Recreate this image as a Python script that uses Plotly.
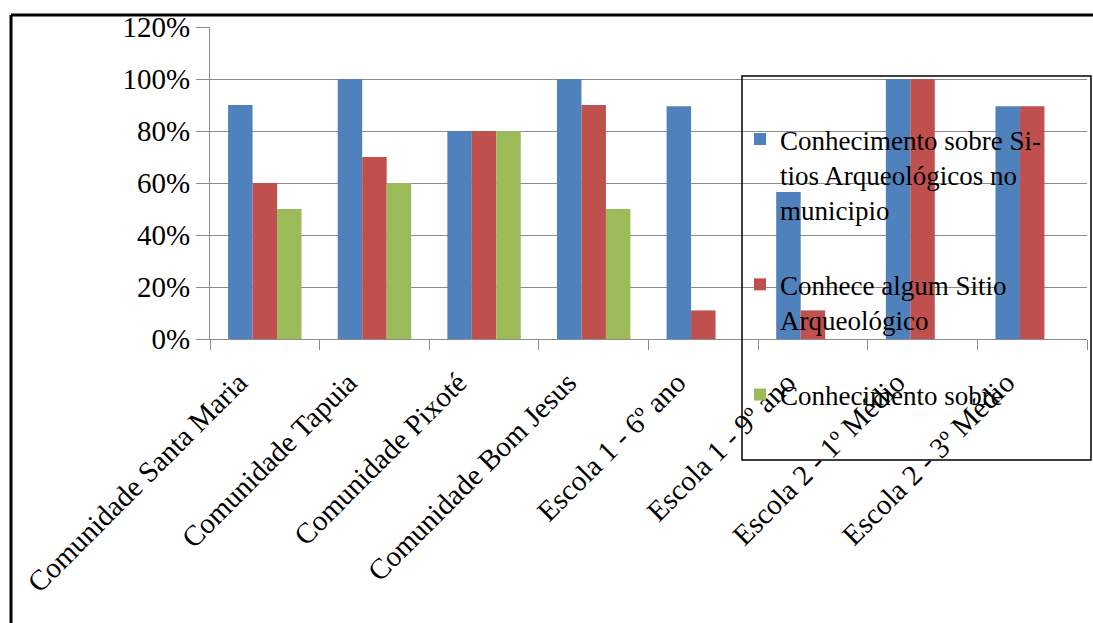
import plotly.graph_objects as go

# Survey results per community / school group
categories = [
    "Comunidade Santa Maria",
    "Comunidade Tapuia",
    "Comunidade Pixoté",
    "Comunidade Bom Jesus",
    "Escola 1 - 6º ano",
    "Escola 1 - 9º ano",
    "Escola 2 - 1º Médio",
    "Escola 2 - 3º Médio",
]
conhecimento_sitios = [0.90, 1.00, 0.80, 1.00, 0.895, 0.565, 1.00, 0.895]
conhece_algum = [0.60, 0.70, 0.80, 0.90, 0.11, 0.11, 1.00, 0.895]
conhecimento_sobre = [0.50, 0.60, 0.80, 0.50, 0.0, 0.0, 0.0, 0.0]

series_names = [
    "Conhecimento sobre Si-<br>tios Arqueológicos no<br>municipio",
    "Conhece algum Sitio<br>Arqueológico",
    "Conhecimento sobre",
]
series_colors = ["#4F81BD", "#C0504D", "#9BBB59"]
y_ticks = [0, 0.2, 0.4, 0.6, 0.8, 1.0, 1.2]
y_tick_text = ["0%", "20%", "40%", "60%", "80%", "100%", "120%"]

W, H = 1093, 623
L, R, T, B = 210, 6, 27, 284
pw, ph = W - L - R, H - T - B


def px_x(x):
    return (x - L) / pw


def px_y(y):
    return (H - B - y) / ph


fig = go.Figure()
for i, (name, vals, col) in enumerate(
    zip(series_names, [conhecimento_sitios, conhece_algum, conhecimento_sobre], series_colors)
):
    fig.add_trace(
        go.Bar(
            x=categories,
            y=vals,
            name=name,
            marker=dict(color=col, line=dict(width=0)),
            legendgroup=f"g{i}",
        )
    )

serif = "Liberation Serif"
grid = "#8c8c8c"

fig.update_layout(
    width=W,
    height=H,
    margin=dict(l=L, r=R, t=T, b=B, pad=0),
    paper_bgcolor="white",
    plot_bgcolor="white",
    barmode="group",
    bargap=0.33,
    bargroupgap=0,
    font=dict(family=serif, color="black", size=29),
    showlegend=True,
    legend=dict(
        x=px_x(740),
        y=px_y(115),
        xanchor="left",
        yanchor="top",
        bgcolor="rgba(0,0,0,0)",
        borderwidth=0,
        font=dict(family=serif, size=27, color="black"),
        valign="top",
        tracegroupgap=37,
        traceorder="grouped",
        maxheight=600,
    ),
    xaxis=dict(
        type="category",
        tickangle=-45,
        tickson="boundaries",
        ticks="outside",
        ticklen=10,
        tickcolor=grid,
        showline=True,
        linecolor=grid,
        linewidth=1,
        showgrid=False,
        tickfont=dict(family=serif, size=29, color="black"),
        ticklabelshift=-26,
        ticklabelstandoff=14,
    ),
    yaxis=dict(
        range=[0, 1.2],
        tickvals=y_ticks,
        ticktext=y_tick_text,
        ticks="outside",
        ticklen=13,
        tickcolor=grid,
        showline=True,
        linecolor=grid,
        linewidth=1,
        showgrid=True,
        gridcolor=grid,
        gridwidth=1,
        zeroline=False,
        tickfont=dict(family=serif, size=29, color="black"),
        ticklabelstandoff=0,
    ),
    shapes=[
        # outer frame
        dict(type="line", xref="paper", yref="paper",
             x0=px_x(11), x1=px_x(W + 2), y0=px_y(15), y1=px_y(15),
             line=dict(color="black", width=3)),
        dict(type="line", xref="paper", yref="paper",
             x0=px_x(11), x1=px_x(11), y0=px_y(15), y1=px_y(H + 2),
             line=dict(color="black", width=3)),
        # legend box
        dict(type="rect", xref="paper", yref="paper",
             x0=px_x(742), x1=px_x(1091), y0=px_y(76), y1=px_y(460),
             line=dict(color="black", width=1.5), fillcolor="rgba(0,0,0,0)"),
    ],
)

fig.write_html("out.html")
